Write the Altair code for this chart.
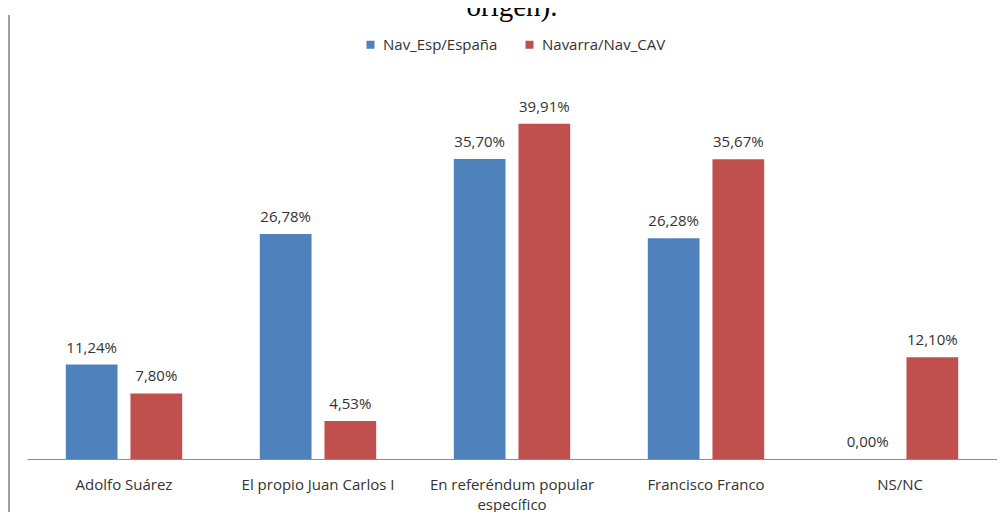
import altair as alt
import pandas as pd

categories = ["Adolfo Suárez", "El propio Juan Carlos I", "En referéndum popular específico",
              "Francisco Franco", "NS/NC"]
series = ["Nav_Esp/España", "Navarra/Nav_CAV"]
nav_esp = [11.24, 26.78, 35.70, 26.28, 0.00]
navarra = [7.80, 4.53, 39.91, 35.67, 12.10]
colors = ["#4F81BD", "#C0504D"]
title_text = ["origen)."]

rows = []
for i, c in enumerate(categories):
    rows.append({"cat": c, "serie": series[0], "value": nav_esp[i]})
    rows.append({"cat": c, "serie": series[1], "value": navarra[i]})
df = pd.DataFrame(rows)

FONT = "Open Sans"
FS = 15
TXT = "#333333"

base = alt.Chart(df).encode(
    x=alt.X(
        "cat:N", sort=categories, title=None,
        scale=alt.Scale(paddingInner=0.4, paddingOuter=0.2),
        axis=alt.Axis(
            labelAngle=0, labelFont=FONT, labelFontSize=FS, labelColor=TXT,
            ticks=False, tickSize=0, labelPadding=18, labelLineHeight=20,
            domainColor="#8C8C8C", domainWidth=1, grid=False, labelLimit=300,
            labelExpr="datum.label == 'En referéndum popular específico' ? ['En referéndum  popular', 'específico'] : datum.label",
        ),
    ),
    xOffset=alt.XOffset("serie:N", sort=series,
                        scale=alt.Scale(paddingInner=0.2, paddingOuter=0)),
)

bars = base.mark_bar().encode(
    y=alt.Y("value:Q", scale=alt.Scale(domain=[0, 45]), axis=None),
    color=alt.Color(
        "serie:N",
        scale=alt.Scale(domain=series, range=colors),
        legend=alt.Legend(
            title=None, orient="none", legendX=336, legendY=-44,
            direction="horizontal", symbolType="square", symbolSize=64,
            symbolStrokeWidth=0, labelFont=FONT, labelFontSize=FS,
            labelColor=TXT, labelOffset=5, columnPadding=24, padding=0,
        ),
    ),
)

labels = base.mark_text(
    baseline="alphabetic", dy=-12, font=FONT, fontSize=FS, color=TXT
).encode(
    y=alt.Y("value:Q"),
    text=alt.Text("label:N"),
).transform_calculate(
    label="replace(format(datum.value, '.2f'), '.', ',') + '%'"
)

vline = alt.Chart(pd.DataFrame({"a": [0]})).mark_rule(
    color="#A0A0A0", strokeWidth=2
).encode(x=alt.value(-18), y=alt.value(-66), y2=alt.value(440))

title = alt.Chart(pd.DataFrame({"t": title_text})).mark_text(
    font="Liberation Serif", fontSize=29, baseline="alphabetic",
    align="center", color="black"
).encode(x=alt.value(485), y=alt.value(-65.5), text="t:N")

chart = alt.layer(vline, title, bars, labels).properties(
    width=970, height=378,
    padding={"left": 19, "top": 73, "right": 0, "bottom": 53},
    autosize=alt.AutoSizeParams(type="none"),
    background="white",
).configure_view(stroke=None)

chart.save("out.html", embed_options={"renderer": "svg", "actions": False})
